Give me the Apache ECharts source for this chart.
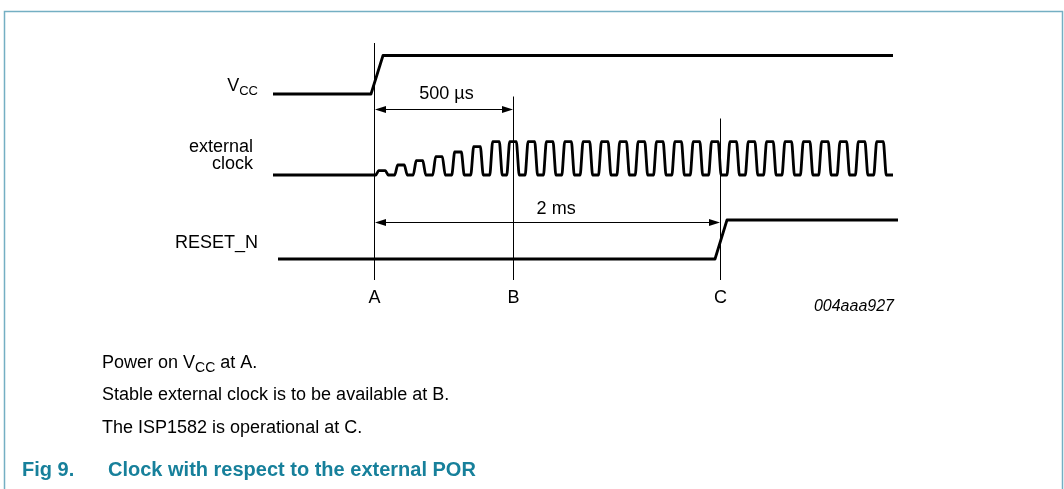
<!DOCTYPE html>
<html><head><meta charset="utf-8">
<script src="https://cdn.jsdelivr.net/npm/echarts@6/dist/echarts.min.js"></script>
<style>html,body{margin:0;padding:0;background:#fff}#c{width:1064px;height:489px}</style>
</head><body><div id="c"></div>
<script>
// Time runs on an arbitrary 0..100 scale; signal levels on an arbitrary 0..237 scale.
const markerNames = ['A', 'B', 'C'];
const markerTimes = [16.16, 38.4, 71.52];
const markerTops = [237, 183.5, 161.5];

const vccTimes = [0, 15.68, 17.6, 99.2];
const vccLevels = [186, 186, 224.5, 224.5];

const resetTimes = [0.8, 70.72, 72.64, 100];
const resetLevels = [21, 21, 60, 60];

const clockStart = 0;
const clockEnd = 99.2;
const clockLow = 105;
const clockHigh = 138.3;
const clockPulseCenters = [17.44, 20.48, 23.44, 26.56, 29.60, 32.64, 35.68,
  38.40, 41.34, 44.27, 47.21, 50.14, 53.08, 56.02, 58.95, 61.89, 64.82, 67.76,
  70.70, 73.63, 76.57, 79.50, 82.44, 85.38, 88.31, 91.25, 94.18, 97.12];
const clockPulseAmps = [0.13, 0.30, 0.43, 0.55, 0.69, 0.85, 1.0,
  1, 1, 1, 1, 1, 1, 1, 1, 1, 1, 1, 1, 1, 1, 1, 1, 1, 1, 1, 1, 1];

const spanLabels = ['500 \u00b5s', '2 ms'];
const spanFrom = [16.16, 16.16];
const spanTo = [38.4, 71.52];
const spanLevels = [171, 58.3];
const spanLabelTimes = [27.76, 45.3];
const spanLabelLevels = [186, 70.5];

// pulse edge geometry (style)
const EDGE_OUT = 0.98, EDGE_IN = 0.55;
const clockTimes = [clockStart], clockLevels = [clockLow];
clockPulseCenters.forEach((c, i) => {
  const h = clockLow + clockPulseAmps[i] * (clockHigh - clockLow);
  clockTimes.push(c - EDGE_OUT, c - EDGE_IN, c + EDGE_IN, c + EDGE_OUT);
  clockLevels.push(clockLow, h, h, clockLow);
});
clockTimes.push(clockEnd); clockLevels.push(clockLow);

const zip = (a, b) => a.map((v, i) => [v, b[i]]);
const FONT = '"Liberation Sans", Arial, Helvetica, sans-serif';
const sig = (name, data, smooth) => ({
  type: 'line', name, data, showSymbol: false, symbol: 'none', silent: true,
  smooth: smooth || false, smoothMonotone: 'x',
  lineStyle: { color: '#000', width: 2.8, join: 'round', cap: 'butt' }
});

const chart = echarts.init(document.getElementById('c'), null, { renderer: 'canvas' });
chart.setOption({
  animation: false,
  backgroundColor: '#fff',
  grid: { left: 273, right: 166, top: 43, bottom: 209, containLabel: false },
  xAxis: { type: 'value', min: 0, max: 100, show: false },
  yAxis: { type: 'value', min: 0, max: 237, show: false },
  series: [
    sig('VCC', zip(vccTimes, vccLevels)),
    sig('external clock', zip(clockTimes, clockLevels), 0.2),
    sig('RESET_N', zip(resetTimes, resetLevels)),
    {
      type: 'custom', silent: true,
      data: markerTimes.map((t, i) => [t, markerTops[i]]),
      encode: { x: 0, y: 1 },
      renderItem: (params, api) => {
        const top = api.coord([api.value(0), api.value(1)]);
        const bot = api.coord([api.value(0), 0]);
        const x = Math.round(top[0]) + 0.5;
        return { type: 'group', children: [
          { type: 'line', shape: { x1: x, y1: top[1], x2: x, y2: bot[1] },
            style: { stroke: '#000', lineWidth: 1 } },
          { type: 'text', style: { text: markerNames[params.dataIndex], x: x, y: bot[1] + 18,
            align: 'center', verticalAlign: 'middle', font: '18px ' + FONT, fill: '#000' } }
        ] };
      }
    },
    {
      type: 'custom', silent: true,
      data: spanFrom.map((f, i) => [f, spanTo[i], spanLevels[i], spanLabelTimes[i], spanLabelLevels[i]]),
      encode: { x: [0, 1, 3], y: [2, 4] },
      renderItem: (params, api) => {
        const p1 = api.coord([api.value(0), api.value(2)]);
        const p2 = api.coord([api.value(1), api.value(2)]);
        const lp = api.coord([api.value(3), api.value(4)]);
        const y = Math.round(p1[1]) + 0.5;
        const x1 = Math.round(p1[0]) + 1, x2 = Math.round(p2[0]);
        const L = 11, W = 3.6;
        return { type: 'group', children: [
          { type: 'line', shape: { x1: x1 + 2, y1: y, x2: x2 - 2, y2: y },
            style: { stroke: '#000', lineWidth: 1 } },
          { type: 'polygon', shape: { points: [[x1, y], [x1 + L, y - W], [x1 + L, y + W]] },
            style: { fill: '#000' } },
          { type: 'polygon', shape: { points: [[x2, y], [x2 - L, y - W], [x2 - L, y + W]] },
            style: { fill: '#000' } },
          { type: 'text', style: { text: spanLabels[params.dataIndex], x: lp[0], y: lp[1],
            align: 'center', verticalAlign: 'middle', font: '18px ' + FONT, fill: '#000' } }
        ] };
      }
    }
  ],
  graphic: [
    { type: 'polyline', silent: true,
      shape: { points: [[4.5, 489], [4.5, 11.5], [1062.5, 11.5], [1062.5, 489]] },
      style: { stroke: '#74afc3', lineWidth: 1.5, fill: null } },
    { type: 'text', silent: true, style: { text: '{v|V}{s|CC}', x: 258, y: 86,
      align: 'right', verticalAlign: 'middle',
      rich: { v: { font: '18px ' + FONT, fill: '#000' },
              s: { font: '13px ' + FONT, fill: '#000', padding: [11, 0, 0, 0] } } } },
    { type: 'text', silent: true, style: { text: 'external', x: 253, y: 147,
      align: 'right', verticalAlign: 'middle', font: '18px ' + FONT, fill: '#000' } },
    { type: 'text', silent: true, style: { text: 'clock', x: 253, y: 164,
      align: 'right', verticalAlign: 'middle', font: '18px ' + FONT, fill: '#000' } },
    { type: 'text', silent: true, style: { text: 'RESET_N', x: 258, y: 243,
      align: 'right', verticalAlign: 'middle', font: '18px ' + FONT, fill: '#000' } },
    { type: 'text', silent: true, style: { text: '004aaa927', x: 894, y: 307,
      align: 'right', verticalAlign: 'middle', font: 'italic 16px ' + FONT, fill: '#000' } },
    { type: 'text', silent: true, style: { text: '{n|Power on V}{s|CC}{n| at A.}', x: 102, y: 363,
      align: 'left', verticalAlign: 'middle',
      rich: { n: { font: '18px ' + FONT, fill: '#000' },
              s: { font: '14px ' + FONT, fill: '#000', padding: [11, 0, 0, 0] } } } },
    { type: 'text', silent: true, style: { text: 'Stable external clock is to be available at B.', x: 102, y: 395,
      align: 'left', verticalAlign: 'middle', font: '18px ' + FONT, fill: '#000' } },
    { type: 'text', silent: true, style: { text: 'The ISP1582 is operational at C.', x: 102, y: 428,
      align: 'left', verticalAlign: 'middle', font: '18px ' + FONT, fill: '#000' } },
    { type: 'text', silent: true, style: { text: 'Fig 9.', x: 22, y: 470,
      align: 'left', verticalAlign: 'middle', font: 'bold 20px ' + FONT, fill: '#17809b' } },
    { type: 'text', silent: true, style: { text: 'Clock with respect to the external POR', x: 108, y: 470,
      align: 'left', verticalAlign: 'middle', font: 'bold 20px ' + FONT, fill: '#17809b' } }
  ]
});
</script></body></html>
